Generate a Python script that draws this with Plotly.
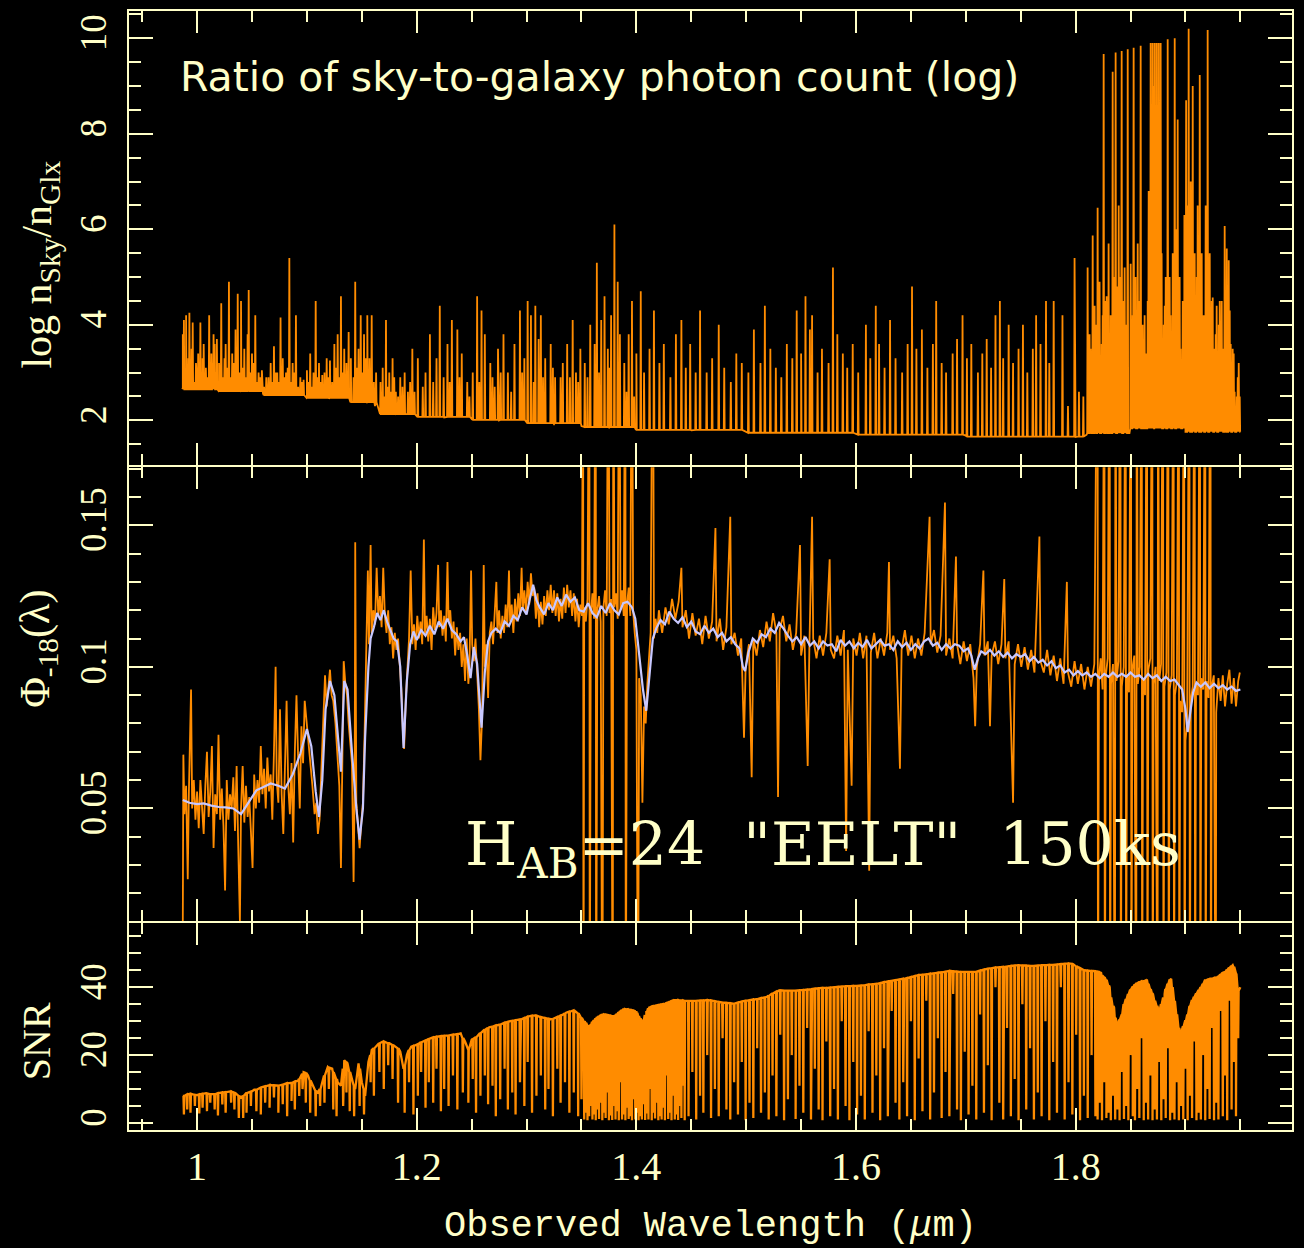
import plotly.graph_objects as go

# ---------------------------------------------------------------- colours
FG = "#ffffc8"        # frame, ticks and text
ORANGE = "#ff8c00"    # observed quantities
LAVENDER = "#c8c8ff"  # smooth model spectrum

# ============================================================ top panel
# log(n_sky / n_galaxy): continuum level of the ratio
ratio_cont_wl = [0.987, 1.000, 1.020, 1.040, 1.060, 1.080, 1.100, 1.120, 1.140, 1.155,
                 1.162, 1.166, 1.180, 1.200, 1.225, 1.250, 1.275, 1.300, 1.325, 1.350,
                 1.375, 1.400, 1.450, 1.500, 1.550, 1.600, 1.650, 1.700, 1.750, 1.800,
                 1.8100, 1.8105, 1.8490, 1.8496, 1.8996, 1.9000, 1.9500]
ratio_cont = [2.68, 2.65, 2.62, 2.60, 2.56, 2.53, 2.49, 2.45, 2.40, 2.36,
              2.30, 2.15, 2.12, 2.09, 2.06, 2.03, 2.00, 1.96, 1.92, 1.88,
              1.85, 1.82, 1.79, 1.76, 1.74, 1.72, 1.70, 1.68, 1.66, 1.65,
              1.70, 1.73, 1.73, 1.83, 1.83, 1.76, 1.76]

# strong sky emission lines: (continuum level, [(wavelength, peak), ...])
ratio_lines = [
    (2.65, [(0.987, 3.80), (0.988, 4.10), (0.990, 4.20), (0.992, 3.30), (0.993, 4.25),
            (0.995, 3.50), (0.996, 4.05), (0.999, 3.20), (1.001, 3.40), (1.003, 4.05),
            (1.005, 3.30), (1.006, 3.60), (1.008, 3.10), (1.011, 4.20), (1.013, 3.40),
            (1.015, 3.80), (1.016, 3.60), (1.018, 3.70)]),
    (2.61, [(1.020, 3.20), (1.022, 4.45), (1.025, 3.30), (1.026, 3.60), (1.029, 4.90),
            (1.032, 3.40), (1.035, 3.90), (1.037, 4.65), (1.040, 4.50), (1.043, 3.50),
            (1.046, 3.80), (1.047, 4.73), (1.050, 3.40), (1.053, 4.20), (1.056, 3.00),
            (1.059, 3.05)]),
    (2.53, [(1.063, 2.90), (1.067, 3.20), (1.070, 3.55), (1.073, 3.00), (1.076, 4.15),
            (1.078, 3.30), (1.081, 3.00), (1.084, 5.40), (1.087, 3.20), (1.090, 4.20),
            (1.094, 2.90), (1.097, 2.85)]),
    (2.47, [(1.100, 3.05), (1.103, 3.40), (1.106, 3.00), (1.108, 4.50), (1.111, 3.20),
            (1.114, 2.95), (1.118, 3.30), (1.121, 3.25), (1.125, 3.60), (1.128, 3.80),
            (1.131, 4.60), (1.134, 3.50), (1.138, 3.85)]),
    (2.38, [(1.140, 3.30), (1.144, 4.90), (1.147, 3.50), (1.149, 4.20), (1.152, 3.80),
            (1.155, 4.20), (1.157, 3.30), (1.159, 4.20), (1.163, 3.00)]),
    (2.13, [(1.167, 2.80), (1.169, 3.10), (1.172, 4.10), (1.175, 3.00), (1.178, 3.30),
            (1.181, 2.60), (1.185, 2.90), (1.189, 3.00), (1.196, 3.50)]),
    (2.07, [(1.201, 3.30), (1.208, 3.00), (1.212, 3.80), (1.218, 3.30), (1.221, 4.40),
            (1.228, 3.60), (1.232, 4.10), (1.237, 3.90), (1.241, 3.40), (1.246, 2.80)]),
    (2.01, [(1.251, 3.00), (1.255, 4.60), (1.259, 4.30), (1.262, 3.80), (1.267, 3.20),
            (1.271, 2.70), (1.274, 3.50), (1.279, 3.80), (1.283, 3.00), (1.289, 3.60),
            (1.294, 4.30), (1.298, 3.30)]),
    (1.94, [(1.301, 4.50), (1.304, 4.20), (1.308, 4.40), (1.311, 3.70), (1.313, 4.20),
            (1.317, 3.30), (1.322, 3.60), (1.326, 2.90), (1.333, 3.20), (1.337, 3.60),
            (1.342, 4.10), (1.345, 3.00), (1.349, 3.50)]),
    (1.86, [(1.353, 3.20), (1.358, 4.00), (1.362, 3.60), (1.364, 5.30), (1.368, 4.10),
            (1.371, 4.60), (1.374, 3.50), (1.377, 4.20), (1.380, 6.10), (1.383, 4.90),
            (1.385, 3.80), (1.389, 3.20), (1.393, 3.80), (1.396, 4.50)]),
    (1.80, [(1.400, 3.40), (1.404, 4.70), (1.407, 3.00), (1.412, 3.50), (1.416, 4.30),
            (1.421, 3.20), (1.425, 3.60), (1.431, 2.90), (1.436, 3.80), (1.441, 4.10),
            (1.445, 3.10), (1.449, 3.60), (1.454, 3.00), (1.458, 4.30), (1.464, 3.00),
            (1.469, 3.30), (1.475, 4.00), (1.480, 3.10), (1.486, 2.80), (1.491, 3.40),
            (1.496, 3.20)]),
    (1.74, [(1.502, 3.00), (1.507, 3.90), (1.513, 3.20), (1.517, 4.40), (1.522, 3.50),
            (1.527, 3.10), (1.532, 2.90), (1.537, 3.60), (1.542, 3.30), (1.546, 4.30),
            (1.550, 3.40), (1.554, 4.60), (1.558, 3.90), (1.560, 4.20), (1.565, 3.00),
            (1.569, 3.50), (1.575, 3.20), (1.579, 5.20), (1.583, 3.80), (1.588, 3.40),
            (1.592, 3.10), (1.597, 3.60)]),
    (1.70, [(1.602, 3.00), (1.609, 4.00), (1.613, 3.30), (1.618, 4.40), (1.621, 3.60),
            (1.626, 3.10), (1.631, 4.10), (1.636, 3.30), (1.642, 3.00), (1.647, 3.60),
            (1.651, 4.80), (1.655, 3.50), (1.660, 3.90), (1.665, 3.10), (1.670, 3.60),
            (1.673, 4.50), (1.678, 3.20), (1.682, 3.00), (1.688, 3.40), (1.692, 3.70),
            (1.697, 4.20)]),
    (1.66, [(1.701, 3.30), (1.705, 3.60), (1.711, 3.00), (1.715, 3.40), (1.719, 3.70),
            (1.723, 3.10), (1.727, 4.20), (1.731, 4.50), (1.734, 3.30), (1.739, 4.00),
            (1.743, 3.20), (1.748, 3.50), (1.752, 4.00), (1.756, 3.00), (1.761, 3.50),
            (1.764, 4.20), (1.768, 3.60), (1.773, 4.50), (1.776, 3.20), (1.780, 4.50),
            (1.788, 4.20), (1.793, 2.30), (1.799, 5.40), (1.803, 2.60), (1.807, 2.50)]),
    (1.73, [(1.8109, 5.20), (1.8136, 3.50), (1.8155, 5.87), (1.8182, 4.00), (1.8200, 6.45),
            (1.8218, 4.90), (1.8237, 3.60), (1.8255, 9.67), (1.8273, 4.50), (1.8300, 5.70),
            (1.8319, 4.20), (1.8337, 9.30), (1.8355, 5.00), (1.8364, 9.70), (1.8382, 4.80),
            (1.8392, 6.50), (1.8410, 5.00), (1.8419, 9.73), (1.8437, 4.50), (1.8446, 5.20),
            (1.8464, 4.00), (1.8474, 9.77)]),
    (1.83, [(1.8501, 5.28), (1.8519, 4.20), (1.8528, 9.80), (1.8546, 5.00), (1.8565, 5.70),
            (1.8583, 4.50), (1.8592, 9.84), (1.8610, 4.00), (1.8638, 3.40), (1.8656, 4.50),
            (1.8665, 6.80), (1.8683, 9.90), (1.8692, 8.00), (1.8701, 9.90), (1.8710, 9.00),
            (1.8720, 9.90), (1.8729, 7.50), (1.8738, 9.90), (1.8747, 8.50), (1.8756, 9.90),
            (1.8765, 6.00), (1.8774, 9.90), (1.8783, 5.50), (1.8802, 4.00), (1.8820, 5.00),
            (1.8838, 9.98), (1.8856, 5.00), (1.8865, 4.20), (1.8884, 5.50), (1.8902, 10.00),
            (1.8920, 6.00), (1.8929, 8.30), (1.8947, 5.00), (1.8956, 3.50), (1.8975, 4.50),
            (1.8990, 6.30)]),
    (1.76, [(1.9006, 8.70), (1.9020, 6.50), (1.9029, 10.20), (1.9048, 7.00), (1.9066, 9.00),
            (1.9084, 5.50), (1.9102, 5.00), (1.9111, 6.50), (1.9130, 9.23), (1.9148, 5.50),
            (1.9166, 4.20), (1.9184, 6.50), (1.9202, 10.17), (1.9221, 5.50), (1.9239, 4.50),
            (1.9248, 4.57), (1.9266, 3.50), (1.9284, 4.40), (1.9303, 4.00), (1.9312, 4.50),
            (1.9330, 4.50), (1.9339, 3.50), (1.9357, 6.07), (1.9376, 5.60), (1.9394, 5.35),
            (1.9412, 3.60), (1.9430, 3.50), (1.9448, 2.60), (1.9467, 2.50), (1.9476, 2.90),
            (1.9494, 2.50)]),
]

# weaker sky lines between the strong ones (J band and the 1.9 micron band)
ratio_lines_weak = [
    (2.65, [(0.9895, 2.9), (0.9975, 2.8), (1.0045, 3.0), (1.0095, 2.9), (1.0140, 3.2),
            (1.0175, 3.0)]),
    (2.61, [(1.0235, 2.9), (1.0275, 3.1), (1.0305, 2.9), (1.0335, 3.2), (1.0385, 3.0),
            (1.0415, 3.1), (1.0445, 2.9), (1.0485, 3.0), (1.0515, 3.2), (1.0545, 2.8),
            (1.0575, 2.9)]),
    (2.53, [(1.0610, 2.7), (1.0650, 2.9), (1.0685, 2.8), (1.0715, 3.0), (1.0745, 2.8),
            (1.0795, 2.9), (1.0825, 3.1), (1.0855, 2.8), (1.0885, 3.0), (1.0920, 2.7),
            (1.0955, 2.8)]),
    (2.47, [(1.1015, 2.8), (1.1045, 2.7), (1.1095, 2.9), (1.1125, 2.8), (1.1160, 3.0),
            (1.1195, 2.9), (1.1230, 2.8), (1.1265, 3.1), (1.1295, 2.9), (1.1325, 3.0),
            (1.1360, 3.2)]),
    (2.38, [(1.1425, 2.9), (1.1455, 3.1), (1.1505, 3.0), (1.1535, 3.3), (1.1610, 2.8)]),
    (2.13, [(1.1705, 2.5), (1.1735, 2.7), (1.1765, 2.6), (1.1795, 2.9), (1.1830, 2.5),
            (1.1870, 2.7), (1.1920, 2.6), (1.1940, 2.8), (1.1980, 2.6)]),
    (2.07, [(1.2055, 2.7), (1.2150, 2.8), (1.2245, 2.9), (1.2300, 2.8), (1.2390, 2.9),
            (1.2480, 2.5)]),
    (2.01, [(1.2570, 2.8), (1.2690, 2.9), (1.2765, 3.0), (1.2860, 2.6), (1.2960, 3.0)]),
    (1.94, [(1.3065, 2.8), (1.3150, 2.9), (1.3240, 3.1), (1.3310, 2.9), (1.3395, 2.9),
            (1.3470, 2.8)]),
    (1.86, [(1.3555, 2.9), (1.3660, 3.0), (1.3755, 3.1), (1.3910, 2.6), (1.3980, 2.5)]),
    (1.73, [(1.8127, 3.8), (1.8173, 4.4), (1.8209, 3.9), (1.8246, 4.2), (1.8282, 4.6),
            (1.8310, 3.8), (1.8346, 4.0), (1.8401, 3.0), (1.8455, 3.3)]),
    (1.83, [(1.8537, 3.5), (1.8574, 3.1), (1.8628, 4.2), (1.8674, 4.0), (1.8811, 4.4),
            (1.8847, 3.9), (1.8893, 4.1), (1.8938, 3.7), (1.8984, 3.3)]),
    (1.76, [(1.9038, 3.1), (1.9075, 3.3), (1.9120, 3.2), (1.9157, 3.0), (1.9193, 4.3),
            (1.9230, 3.9), (1.9275, 3.8), (1.9321, 3.4), (1.9366, 3.2), (1.9403, 4.3),
            (1.9439, 3.4), (1.9485, 3.2)]),
]

# ========================================================= middle panel
# smooth model spectrum Phi_-18(lambda)
model_wl = [0.987, 0.993, 1.000, 1.006, 1.013, 1.020, 1.026, 1.033, 1.040, 1.047,
            1.054, 1.060, 1.067, 1.074, 1.080, 1.087, 1.094, 1.100, 1.104, 1.108,
            1.111, 1.114, 1.117, 1.121, 1.125, 1.129, 1.131, 1.134, 1.137, 1.141,
            1.145, 1.148, 1.151, 1.153, 1.156, 1.158, 1.161, 1.164, 1.167, 1.170,
            1.173, 1.176, 1.179, 1.182, 1.185, 1.188, 1.191, 1.194, 1.197, 1.200,
            1.204, 1.208, 1.212, 1.216, 1.220, 1.224, 1.228, 1.232, 1.236, 1.240,
            1.243, 1.246, 1.249, 1.252, 1.255, 1.259, 1.262, 1.265, 1.268, 1.272,
            1.276, 1.280, 1.284, 1.288, 1.292, 1.296, 1.300, 1.303, 1.306, 1.309,
            1.312, 1.316, 1.320, 1.324, 1.328, 1.332, 1.336, 1.340, 1.344, 1.348,
            1.352, 1.356, 1.360, 1.364, 1.368, 1.372, 1.376, 1.380, 1.384, 1.388,
            1.392, 1.396, 1.399, 1.401, 1.403, 1.406, 1.409, 1.412, 1.415, 1.418,
            1.422, 1.426, 1.430, 1.434, 1.438, 1.442, 1.446, 1.450, 1.454, 1.458,
            1.462, 1.466, 1.470, 1.474, 1.478, 1.482, 1.486, 1.490, 1.494, 1.497,
            1.499, 1.502, 1.506, 1.510, 1.514, 1.518, 1.522, 1.526, 1.530, 1.534,
            1.538, 1.542, 1.546, 1.550, 1.554, 1.558, 1.562, 1.566, 1.570, 1.574,
            1.578, 1.582, 1.586, 1.590, 1.594, 1.598, 1.602, 1.606, 1.610, 1.614,
            1.618, 1.622, 1.626, 1.630, 1.634, 1.638, 1.642, 1.646, 1.650, 1.654,
            1.658, 1.662, 1.666, 1.670, 1.674, 1.678, 1.682, 1.686, 1.690, 1.694,
            1.698, 1.702, 1.705, 1.708, 1.711, 1.714, 1.718, 1.722, 1.726, 1.730,
            1.734, 1.738, 1.742, 1.746, 1.750, 1.754, 1.758, 1.762, 1.766, 1.770,
            1.774, 1.778, 1.782, 1.786, 1.790, 1.794, 1.798, 1.802, 1.806, 1.810,
            1.814, 1.818, 1.822, 1.826, 1.830, 1.834, 1.838, 1.842, 1.846, 1.850,
            1.854, 1.858, 1.862, 1.866, 1.870, 1.874, 1.878, 1.882, 1.886, 1.890,
            1.894, 1.897, 1.900, 1.902, 1.904, 1.907, 1.910, 1.914, 1.918, 1.922,
            1.926, 1.930, 1.934, 1.938, 1.942, 1.946, 1.950]
model_phi = [0.0530, 0.0520, 0.0515, 0.0518, 0.0510, 0.0505, 0.0504, 0.0500, 0.0480, 0.0520,
             0.0564, 0.0575, 0.0588, 0.0580, 0.0570, 0.0620, 0.0694, 0.0780, 0.0720, 0.0560,
             0.0470, 0.0600, 0.0850, 0.0950, 0.0900, 0.0720, 0.0630, 0.0950, 0.0920, 0.0700,
             0.0500, 0.0390, 0.0500, 0.0750, 0.1000, 0.1100, 0.1140, 0.1190, 0.1165, 0.1200,
             0.1160, 0.1130, 0.1100, 0.1090, 0.1000, 0.0714, 0.0950, 0.1080, 0.1125, 0.1095,
             0.1130, 0.1110, 0.1145, 0.1115, 0.1160, 0.1135, 0.1170, 0.1130, 0.1115, 0.1090,
             0.1105, 0.1040, 0.0960, 0.1070, 0.1010, 0.0785, 0.0980, 0.1090, 0.1120, 0.1135,
             0.1120, 0.1160, 0.1145, 0.1180, 0.1165, 0.1210, 0.1185, 0.1240, 0.1290, 0.1235,
             0.1210, 0.1185, 0.1225, 0.1200, 0.1245, 0.1215, 0.1255, 0.1230, 0.1245, 0.1200,
             0.1195, 0.1225, 0.1190, 0.1175, 0.1215, 0.1190, 0.1225, 0.1200, 0.1185, 0.1225,
             0.1230, 0.1210, 0.1170, 0.1100, 0.1030, 0.0920, 0.0845, 0.0980, 0.1100, 0.1135,
             0.1165, 0.1150, 0.1195, 0.1170, 0.1155, 0.1175, 0.1140, 0.1160, 0.1125, 0.1115,
             0.1145, 0.1120, 0.1135, 0.1105, 0.1120, 0.1090, 0.1105, 0.1080, 0.1065, 0.1000,
             0.0985, 0.1050, 0.1100, 0.1085, 0.1115, 0.1105, 0.1135, 0.1120, 0.1155, 0.1135,
             0.1110, 0.1090, 0.1105, 0.1080, 0.1105, 0.1075, 0.1090, 0.1065, 0.1090, 0.1075,
             0.1080, 0.1055, 0.1095, 0.1075, 0.1090, 0.1065, 0.1085, 0.1070, 0.1095, 0.1065,
             0.1080, 0.1095, 0.1075, 0.1080, 0.1060, 0.1090, 0.1070, 0.1085, 0.1060, 0.1080,
             0.1065, 0.1090, 0.1100, 0.1075, 0.1085, 0.1060, 0.1080, 0.1065, 0.1080, 0.1075,
             0.1055, 0.1065, 0.1040, 0.0990, 0.1030, 0.1055, 0.1045, 0.1060, 0.1040, 0.1055,
             0.1035, 0.1050, 0.1030, 0.1045, 0.1035, 0.1045, 0.1020, 0.1035, 0.1015, 0.1025,
             0.1005, 0.1020, 0.0995, 0.1005, 0.0980, 0.0990, 0.0970, 0.0985, 0.0970, 0.0980,
             0.0965, 0.0975, 0.0960, 0.0975, 0.0965, 0.0980, 0.0965, 0.0975, 0.0965, 0.0980,
             0.0965, 0.0970, 0.0955, 0.0975, 0.0960, 0.0970, 0.0950, 0.0965, 0.0950, 0.0955,
             0.0935, 0.0920, 0.0850, 0.0770, 0.0830, 0.0910, 0.0945, 0.0930, 0.0945, 0.0925,
             0.0940, 0.0925, 0.0935, 0.0920, 0.0930, 0.0915, 0.0920]

# observed (noisy) spectrum samples: (wavelength, Phi)
observed = [
    (0.9870, 0.010), (0.9875, 0.069), (0.9885, 0.048), (0.9900, 0.058), (0.9915, 0.025),
    (0.9925, 0.055), (0.9945, 0.092), (0.9955, 0.050), (0.9970, 0.060), (0.9985, 0.046),
    (1.0000, 0.056), (1.0015, 0.043), (1.0030, 0.060), (1.0045, 0.049), (1.0060, 0.041),
    (1.0075, 0.058), (1.0090, 0.070), (1.0105, 0.047), (1.0120, 0.056), (1.0135, 0.072),
    (1.0150, 0.036), (1.0165, 0.055), (1.0180, 0.048), (1.0195, 0.076), (1.0210, 0.046),
    (1.0225, 0.057), (1.0240, 0.044), (1.0255, 0.021), (1.0270, 0.060), (1.0285, 0.046),
    (1.0300, 0.055), (1.0315, 0.050), (1.0330, 0.061), (1.0345, 0.042), (1.0360, 0.065),
    (1.0375, 0.036), (1.0390, 0.010), (1.0400, 0.050), (1.0415, 0.065), (1.0430, 0.045),
    (1.0445, 0.058), (1.0460, 0.047), (1.0475, 0.054), (1.0490, 0.042), (1.0505, 0.029),
    (1.0520, 0.062), (1.0535, 0.050), (1.0550, 0.060), (1.0565, 0.052), (1.0580, 0.072),
    (1.0595, 0.055), (1.0610, 0.064), (1.0625, 0.050), (1.0640, 0.068), (1.0655, 0.056),
    (1.0670, 0.062), (1.0685, 0.046), (1.0700, 0.070), (1.0715, 0.100), (1.0725, 0.060),
    (1.0740, 0.052), (1.0755, 0.085), (1.0770, 0.055), (1.0785, 0.041), (1.0800, 0.062),
    (1.0815, 0.088), (1.0830, 0.058), (1.0845, 0.048), (1.0860, 0.066), (1.0875, 0.038),
    (1.0890, 0.070), (1.0905, 0.090), (1.0920, 0.068), (1.0935, 0.050), (1.0950, 0.079),
    (1.0965, 0.066), (1.0980, 0.088), (1.0995, 0.082), (1.1010, 0.074), (1.1030, 0.066),
    (1.1050, 0.058), (1.1070, 0.048), (1.1085, 0.052), (1.1100, 0.041), (1.1115, 0.046),
    (1.1130, 0.062), (1.1150, 0.080), (1.1165, 0.097), (1.1180, 0.086), (1.1195, 0.092),
    (1.1210, 0.099), (1.1225, 0.090), (1.1240, 0.088), (1.1260, 0.080), (1.1280, 0.066),
    (1.1295, 0.058), (1.1310, 0.029), (1.1320, 0.062), (1.1335, 0.102), (1.1350, 0.094),
    (1.1365, 0.090), (1.1380, 0.080), (1.1395, 0.072), (1.1410, 0.066), (1.1425, 0.024),
    (1.1435, 0.058), (1.1440, 0.144), (1.1450, 0.052), (1.1465, 0.044), (1.1480, 0.036),
    (1.1495, 0.045), (1.1510, 0.052), (1.1525, 0.076), (1.1540, 0.102), (1.1555, 0.134),
    (1.1565, 0.108), (1.1580, 0.143), (1.1590, 0.112), (1.1605, 0.120), (1.1620, 0.115),
    (1.1635, 0.135), (1.1650, 0.118), (1.1665, 0.125), (1.1680, 0.114), (1.1695, 0.135),
    (1.1710, 0.118), (1.1725, 0.112), (1.1740, 0.120), (1.1755, 0.108), (1.1770, 0.114),
    (1.1785, 0.103), (1.1800, 0.112), (1.1815, 0.106), (1.1830, 0.110), (1.1845, 0.100),
    (1.1860, 0.092), (1.1875, 0.076), (1.1885, 0.071), (1.1900, 0.088), (1.1915, 0.100),
    (1.1930, 0.110), (1.1945, 0.134), (1.1960, 0.108), (1.1975, 0.115), (1.1990, 0.106),
    (1.2005, 0.118), (1.2020, 0.110), (1.2035, 0.116), (1.2050, 0.108), (1.2065, 0.145),
    (1.2075, 0.112), (1.2090, 0.118), (1.2105, 0.109), (1.2120, 0.117), (1.2135, 0.106),
    (1.2150, 0.121), (1.2165, 0.113), (1.2180, 0.119), (1.2195, 0.136), (1.2205, 0.114),
    (1.2220, 0.120), (1.2235, 0.111), (1.2250, 0.118), (1.2265, 0.109), (1.2280, 0.137),
    (1.2290, 0.116), (1.2305, 0.120), (1.2320, 0.110), (1.2335, 0.116), (1.2350, 0.104),
    (1.2365, 0.114), (1.2380, 0.106), (1.2395, 0.112), (1.2410, 0.100), (1.2425, 0.108),
    (1.2440, 0.095), (1.2455, 0.110), (1.2470, 0.094), (1.2480, 0.100), (1.2495, 0.134),
    (1.2505, 0.108), (1.2520, 0.102), (1.2535, 0.110), (1.2550, 0.098), (1.2565, 0.086),
    (1.2580, 0.067), (1.2595, 0.082), (1.2610, 0.136), (1.2620, 0.100), (1.2635, 0.108),
    (1.2650, 0.089), (1.2665, 0.112), (1.2680, 0.116), (1.2695, 0.108), (1.2710, 0.118),
    (1.2725, 0.130), (1.2735, 0.112), (1.2750, 0.120), (1.2765, 0.110), (1.2780, 0.118),
    (1.2795, 0.112), (1.2810, 0.122), (1.2825, 0.114), (1.2840, 0.134), (1.2850, 0.116),
    (1.2865, 0.122), (1.2880, 0.112), (1.2895, 0.124), (1.2910, 0.116), (1.2925, 0.126),
    (1.2940, 0.118), (1.2955, 0.135), (1.2965, 0.120), (1.2980, 0.127), (1.2995, 0.119),
    (1.3010, 0.130), (1.3025, 0.122), (1.3040, 0.133), (1.3055, 0.125), (1.3070, 0.128),
    (1.3085, 0.117), (1.3100, 0.126), (1.3115, 0.114), (1.3130, 0.123), (1.3145, 0.115),
    (1.3160, 0.125), (1.3175, 0.118), (1.3190, 0.127), (1.3205, 0.120), (1.3220, 0.129),
    (1.3235, 0.119), (1.3250, 0.127), (1.3265, 0.118), (1.3280, 0.126), (1.3295, 0.116),
    (1.3310, 0.124), (1.3325, 0.117), (1.3340, 0.128), (1.3355, 0.119), (1.3370, 0.129),
    (1.3385, 0.121), (1.3400, 0.127), (1.3415, 0.118), (1.3430, 0.126), (1.3445, 0.116),
    (1.3460, 0.124), (1.3475, 0.114), (1.3490, 0.122), (1.3505, 0.118),
    # water band around 1.4 micron: residuals run off the scale
    (1.3515, 0.250), (1.3518, -0.050), (1.3525, 0.121), (1.3540, 0.116), (1.3555, 0.124),
    (1.3572, 0.250), (1.3575, -0.050), (1.3585, 0.118), (1.3600, 0.126), (1.3615, 0.117),
    (1.3630, 0.250), (1.3633, -0.050), (1.3645, 0.120), (1.3660, 0.125), (1.3675, 0.116),
    (1.3690, -0.050), (1.3700, 0.121), (1.3715, 0.127), (1.3730, 0.118), (1.3745, 0.250),
    (1.3755, 0.119), (1.3770, 0.124), (1.3785, -0.050), (1.3790, 0.250), (1.3800, 0.121),
    (1.3815, 0.126), (1.3830, 0.117), (1.3845, 0.250), (1.3855, 0.120), (1.3870, 0.127),
    (1.3885, 0.118), (1.3900, 0.250), (1.3903, -0.050), (1.3915, 0.122), (1.3930, 0.128),
    (1.3945, 0.118), (1.3960, 0.250), (1.3970, 0.120), (1.3985, 0.112), (1.4000, 0.106),
    (1.4015, -0.050), (1.4025, 0.096), (1.4040, 0.090), (1.4055, 0.052), (1.4070, 0.086),
    (1.4085, 0.080), (1.4100, 0.094), (1.4115, 0.104), (1.4130, 0.112), (1.4150, 0.250),
    (1.4160, 0.110), (1.4175, 0.117), (1.4190, 0.112), (1.4205, 0.120),
    # H band
    (1.4235, 0.112), (1.4265, 0.121), (1.4295, 0.115), (1.4325, 0.124), (1.4355, 0.117),
    (1.4385, 0.123), (1.4410, 0.135), (1.4420, 0.114), (1.4450, 0.120), (1.4480, 0.110),
    (1.4510, 0.119), (1.4540, 0.111), (1.4570, 0.117), (1.4600, 0.108), (1.4630, 0.118),
    (1.4660, 0.110), (1.4690, 0.116), (1.4720, 0.149), (1.4730, 0.109), (1.4760, 0.117),
    (1.4790, 0.106), (1.4820, 0.114), (1.4855, 0.153), (1.4865, 0.108), (1.4895, 0.112),
    (1.4925, 0.104), (1.4955, 0.110), (1.4980, 0.075), (1.4995, 0.100), (1.5025, 0.108),
    (1.5050, 0.061), (1.5065, 0.110), (1.5095, 0.104), (1.5125, 0.113), (1.5155, 0.107),
    (1.5185, 0.116), (1.5215, 0.109), (1.5245, 0.119), (1.5275, 0.112), (1.5290, 0.054),
    (1.5305, 0.113), (1.5335, 0.118), (1.5365, 0.109), (1.5395, 0.115), (1.5425, 0.106),
    (1.5455, 0.112), (1.5490, 0.143), (1.5500, 0.104), (1.5530, 0.111), (1.5560, 0.065),
    (1.5575, 0.106), (1.5600, 0.153), (1.5610, 0.110), (1.5640, 0.103), (1.5670, 0.111),
    (1.5700, 0.104), (1.5730, 0.112), (1.5760, 0.138), (1.5770, 0.106), (1.5800, 0.103),
    (1.5830, 0.111), (1.5860, 0.104), (1.5890, 0.113), (1.5910, 0.035), (1.5925, 0.106),
    (1.5960, 0.058), (1.5975, 0.110), (1.6005, 0.104), (1.6035, 0.112), (1.6065, 0.103),
    (1.6095, 0.111), (1.6120, 0.028), (1.6135, 0.105), (1.6165, 0.112), (1.6195, 0.103),
    (1.6225, 0.110), (1.6255, 0.104), (1.6285, 0.112), (1.6300, 0.137), (1.6310, 0.106),
    (1.6340, 0.111), (1.6370, 0.103), (1.6400, 0.064), (1.6415, 0.106), (1.6445, 0.113),
    (1.6475, 0.104), (1.6505, 0.111), (1.6535, 0.103), (1.6565, 0.110), (1.6595, 0.104),
    (1.6625, 0.112), (1.6670, 0.153), (1.6680, 0.108), (1.6710, 0.113), (1.6740, 0.105),
    (1.6770, 0.111), (1.6810, 0.158), (1.6820, 0.104), (1.6850, 0.110), (1.6880, 0.103),
    (1.6910, 0.139), (1.6920, 0.108), (1.6950, 0.101), (1.6980, 0.109), (1.7010, 0.102),
    (1.7040, 0.108), (1.7070, 0.096), (1.7085, 0.079), (1.7100, 0.100), (1.7130, 0.108),
    (1.7160, 0.134), (1.7170, 0.104), (1.7200, 0.109), (1.7220, 0.079), (1.7235, 0.104),
    (1.7265, 0.109), (1.7295, 0.101), (1.7325, 0.108), (1.7350, 0.131), (1.7360, 0.103),
    (1.7390, 0.109), (1.7430, 0.052), (1.7445, 0.101), (1.7475, 0.108), (1.7505, 0.100),
    (1.7535, 0.107), (1.7565, 0.099), (1.7595, 0.106), (1.7625, 0.098), (1.7670, 0.146),
    (1.7680, 0.102), (1.7710, 0.098), (1.7740, 0.106), (1.7770, 0.097), (1.7800, 0.104),
    (1.7830, 0.095), (1.7860, 0.103), (1.7890, 0.094), (1.7920, 0.130), (1.7930, 0.098),
    (1.7960, 0.093), (1.7990, 0.102), (1.8020, 0.094), (1.8050, 0.101), (1.8080, 0.092),
    (1.8110, 0.100), (1.8140, 0.093), (1.8170, 0.101),
    # water band around 1.9 micron
    (1.8200, 0.250), (1.8203, -0.050), (1.8212, 0.096), (1.8228, 0.103), (1.8245, 0.092),
    (1.8262, 0.250), (1.8265, -0.050), (1.8275, 0.097), (1.8292, 0.103), (1.8310, 0.250),
    (1.8313, -0.050), (1.8322, 0.094), (1.8340, 0.101), (1.8358, -0.050), (1.8362, 0.250),
    (1.8372, 0.095), (1.8390, 0.102), (1.8408, 0.250), (1.8411, -0.050), (1.8420, 0.093),
    (1.8438, 0.100), (1.8456, 0.250), (1.8459, -0.050), (1.8468, 0.097), (1.8486, 0.091),
    (1.8504, 0.250), (1.8507, -0.050), (1.8516, 0.099), (1.8534, 0.104), (1.8552, -0.050),
    (1.8556, 0.250), (1.8566, 0.094), (1.8584, 0.100), (1.8602, 0.250), (1.8605, -0.050),
    (1.8614, 0.096), (1.8632, 0.090), (1.8650, 0.250), (1.8653, -0.050), (1.8662, 0.099),
    (1.8680, 0.103), (1.8698, 0.250), (1.8701, -0.050), (1.8710, 0.094), (1.8728, 0.100),
    (1.8746, -0.050), (1.8750, 0.250), (1.8760, 0.095), (1.8778, 0.101), (1.8796, 0.250),
    (1.8799, -0.050), (1.8808, 0.093), (1.8826, 0.098), (1.8844, 0.250), (1.8847, -0.050),
    (1.8856, 0.092), (1.8874, 0.097), (1.8892, 0.250), (1.8895, -0.050), (1.8904, 0.090),
    (1.8922, 0.095), (1.8940, 0.250), (1.8943, -0.050), (1.8952, 0.088), (1.8970, 0.084),
    (1.8988, 0.250), (1.8991, -0.050), (1.9000, 0.074), (1.9015, 0.080), (1.9036, 0.250),
    (1.9039, -0.050), (1.9048, 0.088), (1.9066, 0.093), (1.9084, 0.250), (1.9087, -0.050),
    (1.9096, 0.094), (1.9114, 0.090), (1.9132, 0.250), (1.9135, -0.050), (1.9144, 0.096),
    (1.9162, 0.092), (1.9180, 0.250), (1.9183, -0.050), (1.9192, 0.095), (1.9210, 0.089),
    (1.9228, 0.250), (1.9231, -0.050), (1.9240, 0.093), (1.9258, 0.097), (1.9276, -0.050),
    (1.9280, 0.084), (1.9300, 0.096), (1.9320, 0.088), (1.9340, 0.097), (1.9360, 0.086),
    (1.9380, 0.094), (1.9400, 0.099), (1.9420, 0.087), (1.9440, 0.096), (1.9460, 0.086),
    (1.9480, 0.095), (1.9495, 0.098),
]

# ========================================================= bottom panel
# signal-to-noise: continuum envelope
snr_cont_wl = [0.987, 0.993, 1.000, 1.008, 1.015, 1.022, 1.030, 1.036, 1.040, 1.045,
               1.052, 1.058, 1.066, 1.074, 1.080, 1.086, 1.092, 1.097, 1.101, 1.106,
               1.110, 1.114, 1.119, 1.123, 1.128, 1.131, 1.134, 1.137, 1.141, 1.144,
               1.147, 1.150, 1.153, 1.156, 1.159, 1.164, 1.169, 1.175, 1.181, 1.185,
               1.188, 1.191, 1.195, 1.200, 1.206, 1.213, 1.220, 1.228, 1.235, 1.240,
               1.244, 1.247, 1.250, 1.255, 1.260, 1.266, 1.275, 1.285, 1.295, 1.303,
               1.308, 1.315, 1.323, 1.330, 1.336, 1.342, 1.348, 1.352, 1.357, 1.362,
               1.370, 1.380, 1.391, 1.400, 1.406, 1.413, 1.425, 1.435, 1.450, 1.465,
               1.478, 1.488, 1.500, 1.510, 1.519, 1.530, 1.545, 1.560, 1.576, 1.590,
               1.605, 1.618, 1.630, 1.644, 1.655, 1.670, 1.686, 1.698, 1.709, 1.720,
               1.735, 1.747, 1.760, 1.775, 1.786, 1.796, 1.802, 1.808, 1.816, 1.823,
               1.828, 1.831, 1.835, 1.838, 1.842, 1.845, 1.852, 1.858, 1.865, 1.870,
               1.876, 1.881, 1.887, 1.891, 1.895, 1.900, 1.906, 1.912, 1.918, 1.924,
               1.929, 1.936, 1.943, 1.946, 1.948, 1.950]
snr_cont = [8.0, 8.6, 8.2, 8.8, 8.4, 9.0, 9.3, 8.6, 7.5, 8.8,
            9.8, 10.5, 11.2, 11.0, 11.6, 11.8, 12.5, 15.0, 14.0, 10.5,
            9.0, 12.0, 16.5, 16.0, 12.0, 11.0, 18.5, 17.5, 13.0, 10.0,
            17.6, 12.0, 8.0, 18.0, 21.5, 23.0, 24.0, 23.5, 22.5, 21.0,
            16.0, 20.0, 22.5, 23.0, 24.0, 25.0, 25.5, 25.8, 26.0, 26.4,
            24.0, 21.5, 24.5, 25.5, 27.0, 28.2, 29.0, 30.0, 30.5, 31.5,
            31.7, 31.0, 30.5, 31.5, 32.5, 33.3, 32.0, 30.0, 28.0, 30.5,
            32.0, 31.5, 33.8, 33.0, 30.0, 34.2, 35.0, 36.2, 36.0, 36.2,
            35.5, 35.2, 36.0, 36.5, 37.2, 39.1, 39.0, 39.5, 39.9, 40.3,
            40.5, 41.0, 41.8, 42.5, 43.5, 44.0, 44.8, 44.5, 44.5, 45.5,
            46.0, 46.5, 46.3, 46.5, 46.8, 47.0, 46.0, 45.0, 44.8, 44.5,
            42.0, 40.0, 34.0, 28.4, 32.0, 36.0, 40.0, 41.5, 42.0, 38.0,
            33.0, 38.0, 42.5, 34.0, 26.4, 30.0, 36.0, 39.0, 42.0, 42.5,
            43.0, 44.5, 46.5, 44.0, 39.0, 40.0]

# drops at sky lines: (wavelength, envelope level, SNR at the line)
snr_drops = [
    (0.988, 8.0, 2.5), (0.991, 8.4, 4.0), (0.994, 8.6, 3.0), (0.998, 8.3, 5.0), (1.002, 8.4, 2.8),
    (1.005, 8.6, 4.5), (1.009, 8.7, 3.5), (1.012, 8.5, 6.0), (1.016, 8.5, 4.0), (1.019, 8.8, 2.2),
    (1.023, 9.0, 5.5), (1.026, 9.1, 3.0), (1.031, 9.3, 6.0), (1.034, 9.0, 4.0), (1.038, 8.0, 1.5),
    (1.042, 8.0, 1.5), (1.045, 8.8, 3.0), (1.049, 9.2, 5.0), (1.054, 9.8, 3.5), (1.058, 10.5, 2.5),
    (1.062, 10.8, 6.0), (1.066, 11.2, 4.5), (1.070, 11.1, 7.5), (1.074, 11.0, 3.0), (1.078, 11.3, 5.5),
    (1.082, 11.7, 2.0), (1.086, 11.8, 6.5), (1.089, 12.2, 4.0), (1.093, 13.0, 8.0), (1.096, 14.5, 10.0),
    (1.099, 14.8, 6.0), (1.103, 12.5, 3.0), (1.108, 9.5, 2.0), (1.112, 10.0, 5.0), (1.116, 14.0, 6.0),
    (1.120, 16.3, 10.0), (1.124, 15.0, 4.0), (1.127, 13.0, 2.0), (1.133, 16.0, 5.0), (1.136, 18.0, 9.0),
    (1.139, 15.0, 3.5), (1.143, 11.0, 2.0), (1.148, 16.0, 5.0), (1.152, 10.0, 2.5), (1.158, 20.0, 12.0),
    (1.161, 22.0, 8.0), (1.166, 23.5, 15.0), (1.170, 24.0, 10.0), (1.174, 23.5, 17.0), (1.178, 23.0, 13.0),
    (1.183, 22.0, 6.0), (1.189, 17.0, 3.0), (1.193, 21.5, 12.0), (1.197, 22.7, 2.5), (1.201, 23.2, 8.0),
    (1.204, 23.8, 15.0), (1.208, 24.3, 4.5), (1.211, 24.8, 12.0), (1.215, 25.2, 6.0), (1.218, 25.4, 16.0),
    (1.222, 25.6, 3.5), (1.225, 25.7, 10.0), (1.229, 25.8, 5.0), (1.233, 26.0, 14.0), (1.237, 26.2, 4.0),
    (1.242, 25.0, 9.0), (1.247, 21.5, 6.0), (1.251, 24.8, 13.0), (1.254, 25.3, 3.0), (1.258, 26.5, 8.0),
    (1.262, 27.5, 14.0), (1.265, 28.0, 5.5), (1.269, 28.4, 11.0), (1.272, 28.7, 2.0), (1.276, 29.0, 7.0),
    (1.280, 29.5, 16.0), (1.283, 29.8, 4.0), (1.287, 30.1, 9.0), (1.290, 30.3, 2.5), (1.294, 30.5, 12.0),
    (1.298, 30.9, 5.0), (1.301, 31.3, 18.0), (1.305, 31.6, 3.0), (1.309, 31.6, 8.0), (1.313, 31.2, 14.0),
    (1.317, 30.9, 4.0), (1.320, 30.7, 10.0), (1.324, 30.7, 2.0), (1.328, 31.2, 16.0), (1.331, 31.6, 6.0),
    (1.335, 32.3, 12.0), (1.339, 32.8, 3.0), (1.343, 33.2, 9.0), (1.347, 32.3, 2.0), (1.350, 31.0, 7.0),
    (1.3525, 30.0, 1.0), (1.3540, 29.5, 3.0), (1.3555, 28.8, 0.8), (1.3570, 28.0, 2.0), (1.3585, 29.0, 5.0),
    (1.3600, 29.8, 1.0), (1.3615, 30.3, 2.5), (1.3630, 30.8, 0.8), (1.3645, 31.2, 4.0), (1.3660, 31.5, 1.2),
    (1.3675, 31.8, 6.0), (1.3690, 32.0, 0.8), (1.3705, 32.0, 3.0), (1.3720, 31.9, 1.5), (1.3735, 31.8, 9.0),
    (1.3750, 31.7, 0.8), (1.3765, 31.6, 2.2), (1.3780, 31.5, 0.9), (1.3795, 31.5, 5.0), (1.3810, 31.8, 1.0),
    (1.3825, 32.2, 3.5), (1.3840, 32.6, 0.8), (1.3855, 33.0, 12.0), (1.3870, 33.3, 1.0), (1.3885, 33.6, 2.5),
    (1.3900, 33.8, 0.8), (1.3915, 33.7, 4.5), (1.3930, 33.5, 1.2), (1.3945, 33.3, 2.0), (1.3960, 33.2, 0.8),
    (1.3975, 33.1, 7.0), (1.3990, 33.0, 1.0), (1.4005, 32.5, 3.0), (1.4020, 31.5, 0.8), (1.4035, 30.8, 2.0),
    (1.4050, 30.2, 1.0), (1.4065, 30.5, 5.5), (1.4080, 31.8, 0.9), (1.4095, 33.0, 2.8), (1.4110, 33.8, 1.0),
    (1.4125, 34.2, 10.0), (1.4140, 34.3, 0.8), (1.4155, 34.4, 3.0), (1.4170, 34.5, 1.3), (1.4185, 34.6, 6.0),
    (1.4200, 34.7, 0.8), (1.4215, 34.8, 2.0), (1.4230, 34.9, 1.0), (1.4245, 35.0, 4.5), (1.4260, 35.2, 0.8),
    (1.4275, 35.4, 14.0), (1.4290, 35.6, 1.2), (1.4305, 35.8, 3.0), (1.4320, 36.0, 0.8), (1.4335, 36.1, 8.0),
    (1.4350, 36.2, 1.0), (1.4365, 36.2, 2.5), (1.4380, 36.2, 0.9), (1.4395, 36.1, 5.0), (1.4410, 36.1, 1.5),
    (1.4425, 36.1, 11.0), (1.4440, 36.0, 0.8),
    (1.4475, 36.0, 2.0), (1.4510, 36.0, 15.0), (1.4545, 36.0, 1.0), (1.4580, 36.1, 8.0), (1.4610, 36.1, 3.0),
    (1.4645, 36.2, 20.0), (1.4680, 36.1, 1.5), (1.4715, 35.9, 10.0), (1.4750, 35.7, 2.0), (1.4785, 35.5, 25.0),
    (1.4820, 35.4, 4.0), (1.4855, 35.3, 1.0), (1.4890, 35.2, 12.0), (1.4925, 35.5, 2.5), (1.4960, 35.8, 18.0),
    (1.4995, 36.0, 0.8), (1.5030, 36.2, 6.0), (1.5065, 36.4, 1.5), (1.5100, 36.5, 22.0), (1.5135, 36.8, 3.0),
    (1.5170, 37.0, 9.0), (1.5205, 37.5, 1.0), (1.5240, 38.2, 14.0), (1.5275, 38.7, 2.0), (1.5310, 39.1, 26.0),
    (1.5345, 39.0, 0.8), (1.5380, 39.0, 7.0), (1.5415, 39.0, 20.0), (1.5450, 39.0, 1.2), (1.5485, 39.1, 11.0),
    (1.5520, 39.2, 3.0), (1.5555, 39.3, 28.0), (1.5590, 39.4, 1.0), (1.5625, 39.6, 16.0), (1.5660, 39.7, 4.0),
    (1.5695, 39.8, 0.8), (1.5730, 39.8, 24.0), (1.5765, 39.9, 2.0), (1.5800, 40.0, 10.0), (1.5835, 40.1, 1.0),
    (1.5870, 40.2, 30.0), (1.5905, 40.3, 5.0), (1.5940, 40.3, 0.8), (1.5975, 40.4, 18.0), (1.6010, 40.4, 2.5),
    (1.6045, 40.5, 8.0), (1.6080, 40.6, 1.0), (1.6115, 40.8, 27.0), (1.6150, 40.9, 3.0), (1.6185, 41.0, 14.0),
    (1.6220, 41.2, 0.8), (1.6255, 41.5, 22.0), (1.6290, 41.7, 2.0), (1.6325, 41.9, 33.0), (1.6360, 42.1, 6.0),
    (1.6395, 42.3, 1.0), (1.6430, 42.5, 12.0), (1.6465, 42.7, 2.0), (1.6500, 43.0, 30.0), (1.6535, 43.3, 0.8),
    (1.6570, 43.6, 19.0), (1.6605, 43.7, 3.5), (1.6640, 43.8, 36.0), (1.6675, 44.0, 1.0), (1.6710, 44.1, 9.0),
    (1.6745, 44.3, 25.0), (1.6780, 44.4, 1.5), (1.6815, 44.6, 15.0), (1.6850, 44.8, 2.0), (1.6885, 44.7, 38.0),
    (1.6920, 44.6, 4.0), (1.6955, 44.5, 0.8), (1.6990, 44.5, 21.0), (1.7025, 44.5, 2.5), (1.7060, 44.5, 11.0),
    (1.7095, 44.6, 1.0), (1.7130, 44.9, 32.0), (1.7165, 45.2, 3.0), (1.7200, 45.5, 17.0), (1.7235, 45.6, 0.8),
    (1.7270, 45.8, 40.0), (1.7305, 45.9, 6.0), (1.7340, 46.0, 1.0), (1.7375, 46.1, 28.0), (1.7410, 46.3, 2.0),
    (1.7445, 46.4, 13.0), (1.7480, 46.5, 0.8), (1.7515, 46.4, 35.0), (1.7550, 46.4, 4.0), (1.7585, 46.3, 22.0),
    (1.7620, 46.3, 1.0), (1.7655, 46.4, 9.0), (1.7690, 46.5, 2.0), (1.7725, 46.5, 30.0), (1.7760, 46.6, 0.8),
    (1.7795, 46.6, 18.0), (1.7830, 46.7, 3.0), (1.7865, 46.8, 40.0), (1.7900, 46.9, 1.0), (1.7935, 47.0, 12.0),
    (1.7970, 46.9, 2.5), (1.8005, 46.2, 26.0), (1.8040, 45.6, 0.8), (1.8075, 45.1, 8.0), (1.8110, 44.9, 1.5),
    (1.8145, 44.8, 20.0), (1.8180, 44.7, 2.0),
    (1.8200, 44.6, 1.0), (1.8220, 44.5, 6.0), (1.8240, 43.5, 0.8), (1.8260, 43.0, 12.0), (1.8280, 42.0, 1.5),
    (1.8300, 40.5, 3.0), (1.8320, 37.0, 0.8), (1.8340, 34.5, 8.0), (1.8360, 31.0, 1.0), (1.8380, 28.4, 4.0),
    (1.8400, 30.5, 0.8), (1.8420, 32.0, 15.0), (1.8440, 35.0, 1.2), (1.8460, 36.5, 5.0), (1.8480, 38.0, 0.8),
    (1.8500, 39.3, 20.0), (1.8520, 40.0, 2.0), (1.8540, 40.8, 0.8), (1.8560, 41.2, 10.0), (1.8580, 41.5, 1.5),
    (1.8600, 41.7, 25.0), (1.8620, 41.8, 0.8), (1.8640, 42.0, 6.0), (1.8660, 41.0, 1.0), (1.8680, 39.5, 14.0),
    (1.8700, 38.0, 0.8), (1.8720, 36.0, 4.0), (1.8740, 34.5, 1.0), (1.8760, 33.0, 18.0), (1.8780, 35.0, 0.8),
    (1.8800, 37.0, 7.0), (1.8820, 39.5, 1.5), (1.8840, 41.0, 22.0), (1.8860, 42.3, 0.8), (1.8880, 40.0, 3.0),
    (1.8900, 36.0, 1.0), (1.8920, 32.0, 12.0), (1.8940, 28.0, 0.8), (1.8960, 27.0, 5.0), (1.8980, 28.5, 1.0),
    (1.9000, 30.0, 16.0), (1.9020, 32.0, 0.8), (1.9040, 34.5, 8.0), (1.9060, 36.0, 1.5), (1.9080, 37.2, 24.0),
    (1.9100, 38.2, 0.8), (1.9120, 39.0, 3.0), (1.9140, 40.0, 1.0), (1.9160, 41.0, 20.0), (1.9180, 42.0, 0.8),
    (1.9200, 42.2, 10.0), (1.9220, 42.4, 1.2), (1.9240, 42.5, 28.0), (1.9260, 42.7, 0.8), (1.9280, 43.0, 6.0),
    (1.9300, 43.2, 1.0), (1.9320, 43.8, 33.0), (1.9340, 44.3, 2.0), (1.9360, 44.5, 14.0), (1.9380, 45.2, 0.8),
    (1.9400, 45.8, 36.0), (1.9420, 46.3, 4.0), (1.9440, 46.0, 18.0), (1.9460, 44.0, 2.0), (1.9480, 39.0, 25.0),
]

# ------------------------------------------------------------ axes setup
X_RANGE = [0.938, 1.997]
RATIO_RANGE = [1.06, 10.57]
PHI_RANGE = [0.0101, 0.1705]
SNR_RANGE = [-2.06, 58.8]
LINE_HW = 0.0004   # half width of a drawn line profile in microns


def add_lines(base_wl, base_val, *group_lists):
    """Continuum plus narrow emission features rising from a given level."""
    pts = list(zip(base_wl, base_val))
    for groups in group_lists:
        for level, lines in groups:
            for wl, peak in lines:
                pts += [(wl - LINE_HW, level), (wl, peak), (wl + LINE_HW, level)]
    pts.sort(key=lambda p: p[0])
    return [p[0] for p in pts], [p[1] for p in pts]


def add_drops(base_wl, base_val, drops):
    """Envelope plus narrow drops at listed wavelengths."""
    pts = list(zip(base_wl, base_val))
    for wl, level, low in drops:
        pts += [(wl - LINE_HW, level), (wl, low), (wl + LINE_HW, level)]
    pts.sort(key=lambda p: p[0])
    return [p[0] for p in pts], [p[1] for p in pts]


ratio_x, ratio_y = add_lines(ratio_cont_wl, ratio_cont, ratio_lines, ratio_lines_weak)
snr_x, snr_y = add_drops(snr_cont_wl, snr_cont, snr_drops)
obs_x = [p[0] for p in observed]
obs_y = [p[1] for p in observed]

fig = go.Figure()
fig.add_trace(go.Scatter(x=ratio_x, y=ratio_y, mode="lines", xaxis="x", yaxis="y",
                         line=dict(color=ORANGE, width=1.8), hoverinfo="skip"))
fig.add_trace(go.Scatter(x=obs_x, y=obs_y, mode="lines", xaxis="x2", yaxis="y2",
                         line=dict(color=ORANGE, width=1.8), hoverinfo="skip"))
fig.add_trace(go.Scatter(x=model_wl, y=model_phi, mode="lines", xaxis="x2", yaxis="y2",
                         line=dict(color=LAVENDER, width=2.2), hoverinfo="skip"))
fig.add_trace(go.Scatter(x=snr_x, y=snr_y, mode="lines", xaxis="x3", yaxis="y3",
                         line=dict(color=ORANGE, width=2.3), hoverinfo="skip"))

TICK_FONT = dict(family="Liberation Serif", size=40, color=FG)


def xaxis(anchor, labels):
    return dict(anchor=anchor, range=X_RANGE, dtick=0.2, tick0=0.0,
                showline=True, linecolor=FG, linewidth=2,
                mirror="allticks", ticks="inside", ticklen=22, tickwidth=2, tickcolor=FG,
                minor=dict(dtick=0.05, ticklen=11, tickwidth=2, tickcolor=FG, ticks="inside"),
                showgrid=False, zeroline=False, showticklabels=labels, tickfont=TICK_FONT,
                ticklabelstandoff=0)


def yaxis(domain, rng, dtick, minor):
    return dict(domain=domain, range=rng, dtick=dtick, tick0=0, showline=True, linecolor=FG,
                linewidth=2, mirror="allticks", ticks="inside", ticklen=24, tickwidth=2,
                tickcolor=FG,
                minor=dict(dtick=minor, ticklen=12, tickwidth=2, tickcolor=FG, ticks="inside"),
                showgrid=False, zeroline=False, tickangle=-90,
                tickfont=dict(family="Liberation Serif", size=37, color=FG),
                ticklabelstandoff=6)


# panel boundaries (paper fraction); a one-pixel gap lets the shared frame lines coincide
B1, B2, GAP = 0.1855, 0.5932, 0.00089
fig.update_layout(
    width=1304, height=1248,
    margin=dict(l=129, r=12, t=9, b=118),
    paper_bgcolor="black", plot_bgcolor="black",
    showlegend=False,
    xaxis=dict(xaxis("y", False), matches="x3"),
    xaxis2=dict(xaxis("y2", False), matches="x3"),
    xaxis3=xaxis("y3", True),
    yaxis=yaxis([B2 + GAP, 1.0], RATIO_RANGE, 2, 0.5),
    yaxis2=yaxis([B1 + GAP, B2 - GAP], PHI_RANGE, 0.05, 0.01),
    yaxis3=yaxis([0.0, B1 - GAP], SNR_RANGE, 20, 5),
)

NB = "\u00a0"
ann = [
    dict(text="Ratio of sky-to-galaxy photon count (log)", x=0.0421, y=0.941,
         xanchor="left", yanchor="middle",
         font=dict(family="DejaVu Sans", size=41, color=FG)),
    dict(text="H<sub>AB</sub>=24" + NB + ' "EELT"' + NB + " 150ks", x=0.287, y=0.252,
         xanchor="left", yanchor="middle",
         font=dict(family="DejaVu Serif", size=60, color=FG)),
    dict(text="Observed Wavelength (<i>μ</i>m)", x=0.5, y=-0.0856,
         xanchor="center", yanchor="middle",
         font=dict(family="Liberation Mono", size=37, color=FG)),
    dict(text="log n<sub>Sky</sub>/n<sub>Glx</sub>", x=0, xshift=-89, y=0.7734,
         xanchor="center", yanchor="middle", textangle=-90,
         font=dict(family="Liberation Serif", size=42, color=FG)),
    dict(text="Φ<sub>-18</sub>(λ)", x=0, xshift=-91, y=0.430,
         xanchor="center", yanchor="middle", textangle=-90,
         font=dict(family="Liberation Serif", size=42, color=FG)),
    dict(text="SNR", x=0, xshift=-93, y=0.0794,
         xanchor="center", yanchor="middle", textangle=-90,
         font=dict(family="Liberation Serif", size=40, color=FG)),
]
for a in ann:
    a.update(xref="paper", yref="paper", showarrow=False)
fig.update_layout(annotations=ann)

fig.write_html("out.html")
